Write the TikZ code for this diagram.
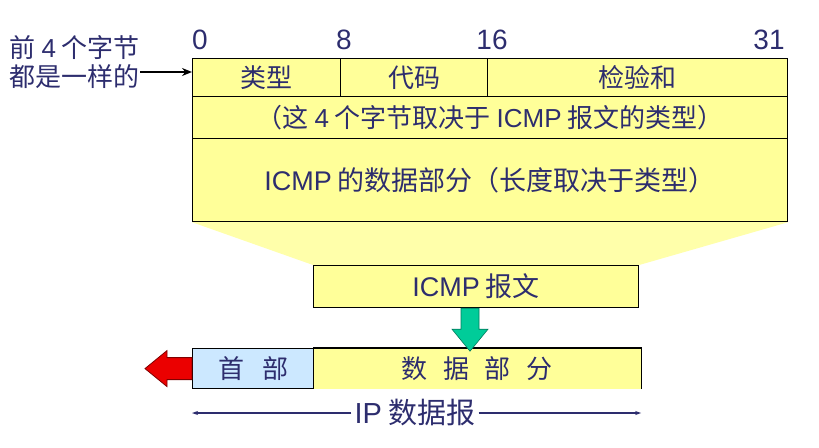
\documentclass[tikz,border=0pt]{standalone}
\usepackage{fontspec}
\setmainfont{Noto Sans CJK SC}
\newfontfamily\lat{Liberation Sans}
\usepackage{tikz}
\usetikzlibrary{arrows.meta,backgrounds}
\definecolor{boxyellow}{RGB}{255,255,153}
\definecolor{fanyellow}{RGB}{255,255,170}
\definecolor{headblue}{RGB}{204,232,255}
\definecolor{inkc}{RGB}{45,45,110}
\definecolor{greenc}{RGB}{0,204,153}
\definecolor{redc}{RGB}{235,0,0}
\tikzset{
  field/.style    = {draw=black, line width=1.2pt, fill=boxyellow, anchor=north west,
                     inner sep=0pt, text=inkc, font=\fontsize{26}{28}\selectfont},
  hdr/.style      = {field, fill=headblue},
  bitno/.style    = {text=inkc, inner sep=0pt, font=\lat\fontsize{28}{30}\selectfont},
  pointer/.style  = {-{Stealth[length=10pt,width=8pt]}, line width=1.5pt},
  span/.style     = {-{Stealth[length=6pt,width=4pt]}, line width=1.2pt, draw=inkc},
  greenarrow/.style = {fill=greenc, draw=greenc!60!black, line width=0.6pt},
  redarrow/.style = {fill=redc, draw=red!50!black, line width=0.8pt},
}

\begin{document}
\begin{tikzpicture}[x=1pt, y=1pt]
\useasboundingbox (0,0) rectangle (819,-447);

% ---- bit positions ----
\node[bitno] (b0)  at (200,-40) {0};
\node[bitno] (b8)  at (344,-40) {8};
\node[bitno] (b16) at (492,-40) {16};
\node[bitno] (b31) at (769,-40) {31};

% ---- the ICMP message, field by field ----
\node[field, minimum width=148pt, minimum height=38pt] (type) at (192,-58) {类型};
\node[field, minimum width=147pt, minimum height=38pt] (code) at (340,-58) {代码};
\node[field, minimum width=300pt, minimum height=38pt] (csum) at (487,-58) {检验和};
\node[field, minimum width=595pt, minimum height=42pt] (rest) at (192,-96)
  {（这 {\lat 4} 个字节取决于 {\lat ICMP} 报文的类型）};
\node[field, minimum width=595pt, minimum height=83pt, font=\fontsize{27}{29}\selectfont] (body) at (192,-138)
  {{\lat ICMP} 的数据部分（长度取决于类型）};

% ---- left note ----
\node[text=inkc, align=left, anchor=east, inner sep=0pt,
      font=\fontsize{26}{29}\selectfont] (samebytes) at (140,-62)
  {前 {\lat 4} 个字节\\都是一样的};
\path (samebytes.east) ++(0,-10) coordinate (feed);
\draw[pointer] (feed) -- (feed -| type.west);

% ---- the whole message, and the fan down to it ----
\node[field, minimum width=325pt, minimum height=42pt, font=\fontsize{27}{29}\selectfont] (icmp) at (313,-265)
  {{\lat ICMP} 报文};
\begin{scope}[on background layer]
  \fill[fanyellow] (body.south west) -- (body.south east) -- (icmp.north east) -- (icmp.north west) -- cycle;
\end{scope}

% ---- the IP datagram ----
\node[hdr, minimum width=121pt, minimum height=40pt] (head) at (192,-348) {首\hspace{0.7em}部};
\node[field, draw=none, minimum width=327pt, minimum height=40pt] (ipdata) at (313,-348)
  {数\hspace{0.6em}据\hspace{0.6em}部\hspace{0.6em}分};
\draw[line width=1.2pt] (ipdata.south east) -- (ipdata.north east) -- (ipdata.north west);

% ---- block arrows ----
\coordinate (drop) at (icmp.south -| 470,0);
\draw[greenarrow] (drop) ++(-9,0) -- ++(0,-21) -- ++(-9,0) -- ++(18,-22) -- ++(18,22)
  -- ++(-9,0) -- ++(0,21) -- cycle;
\draw[redarrow] (head.west) ++(0,11) -- ++(-25,0) -- ++(0,7) -- ++(-22,-18) -- ++(22,-18)
  -- ++(0,7) -- ++(25,0) -- cycle;

% ---- extent of the datagram ----
\node[text=inkc, inner sep=3pt, font=\fontsize{29}{31}\selectfont] (iplbl) at (415,-413) {{\lat IP} 数据报};
\draw[span] (iplbl.west) -- (iplbl.west -| head.west);
\draw[span] (iplbl.east) -- (iplbl.east -| ipdata.east);

\end{tikzpicture}
\end{document}
